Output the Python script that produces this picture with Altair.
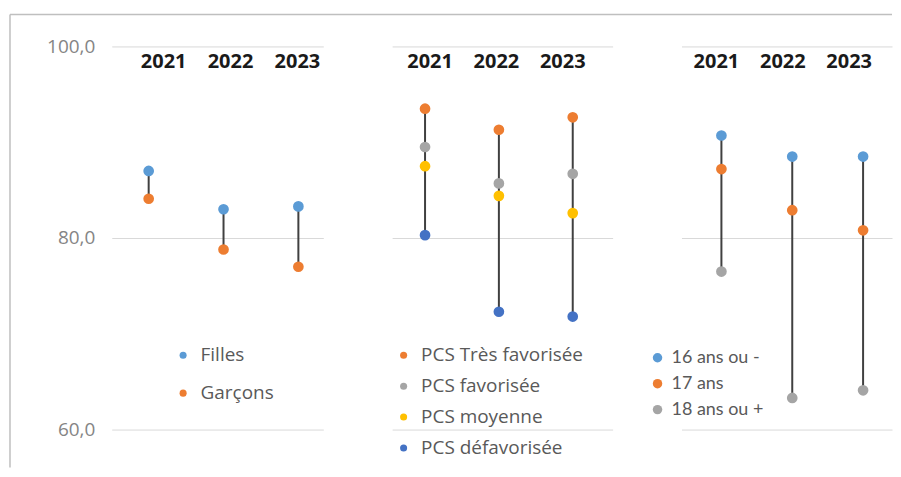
import altair as alt
import pandas as pd

annees = ["2021", "2022", "2023"]

sexe_series = ["Filles", "Garçons"]
sexe_couleurs = ["#5B9BD5", "#ED7D31"]
filles = [87.0, 83.0, 83.3]
garcons = [84.1, 78.8, 77.0]

pcs_series = ["PCS Très favorisée", "PCS favorisée", "PCS moyenne", "PCS défavorisée"]
pcs_couleurs = ["#ED7D31", "#A5A5A5", "#FFC000", "#4472C4"]
pcs_tres_fav = [93.5, 91.3, 92.6]
pcs_fav = [89.5, 85.7, 86.7]
pcs_moy = [87.5, 84.4, 82.6]
pcs_defav = [80.3, 72.3, 71.8]

age_series = ["16 ans ou -", "17 ans", "18 ans ou +"]
age_couleurs = ["#5B9BD5", "#ED7D31", "#A5A5A5"]
age_16 = [90.7, 88.5, 88.5]
age_17 = [87.2, 82.9, 80.8]
age_18 = [76.5, 63.3, 64.1]

axe_valeurs = [60, 80, 100]
HAUTEUR = 384


def tableau(series, valeurs):
    return pd.DataFrame([
        {"annee": a, "serie": s, "valeur": v}
        for s, vals in zip(series, valeurs)
        for a, v in zip(annees, vals)
    ])


def panneau(series, valeurs, couleurs, largeur, x_pad, lab_pad, legende,
            axe_visible, cadre=False):
    df = tableau(series, valeurs)
    base = alt.Chart(df)
    y_axis = alt.Axis(values=axe_valeurs, grid=True, gridColor="#D9D9D9",
                      gridWidth=1, domain=False, ticks=False,
                      labels=axe_visible,
                      labelExpr="replace(format(datum.value, '.1f'), '.', ',')",
                      labelFontSize=19, labelColor="#858585",
                      labelFont="Open Sans", labelPadding=17, title=None)
    y_scale = alt.Scale(domain=[60, 100], nice=False, zero=False)
    x_enc = alt.X("annee:N", sort=annees,
                  scale=alt.Scale(type="point", padding=x_pad[0],
                                  align=x_pad[1]),
                  axis=None)
    tiges = base.mark_rule(color="#404040", strokeWidth=2).encode(
        x=x_enc,
        y=alt.Y("min(valeur):Q", scale=y_scale, axis=y_axis),
        y2=alt.Y2("max(valeur):Q"),
    )
    points = base.mark_circle(size=115, opacity=1).encode(
        x=x_enc,
        y=alt.Y("valeur:Q", scale=y_scale, axis=y_axis),
        color=alt.Color("serie:N", sort=series,
                        scale=alt.Scale(domain=series, range=couleurs),
                        legend=legende),
    )
    etiquettes = alt.Chart(pd.DataFrame({"annee": annees})).mark_text(
        fontSize=20, fontWeight="bold", font="Open Sans", color="#1A1A1A",
        baseline="middle",
    ).encode(
        x=alt.X("annee:N", sort=annees,
                scale=alt.Scale(type="point", padding=lab_pad[0],
                                align=lab_pad[1]),
                axis=None),
        y=alt.value(16),
        text="annee:N",
    )
    couches = [tiges, points, etiquettes]
    if cadre:
        un = alt.Chart(pd.DataFrame({"cadre": ["bord"]}))
        haut = un.mark_rule(color="#BFBFBF", strokeWidth=1.5).encode(
            x=alt.value(-102), x2=alt.value(782), y=alt.value(-32))
        gauche = un.mark_rule(color="#BFBFBF", strokeWidth=1.5).encode(
            x=alt.value(-102), y=alt.value(-32), y2=alt.value(422))
        couches += [haut, gauche]
    return alt.layer(*couches).resolve_scale(x="independent").properties(
        width=largeur, height=HAUTEUR)


def legende(x, y, taille, ecart, symbole, decalage=8, police="Open Sans"):
    return alt.Legend(orient="none", legendX=x, legendY=y, title=None,
                      labelFont=police, labelFontSize=taille,
                      labelColor="#595959", labelLimit=300,
                      symbolType="circle", symbolSize=symbole,
                      symbolStrokeWidth=0, symbolOpacity=1,
                      rowPadding=ecart, labelOffset=decalage,
                      direction="vertical")


p1 = panneau(sexe_series, [filles, garcons], sexe_couleurs, 212,
             (0.413, 0.597), (0.582, 0.667), legende(62, 300, 19, 18, 50),
             True, cadre=True)
p2 = panneau(pcs_series, [pcs_tres_fav, pcs_fav, pcs_moy, pcs_defav],
             pcs_couleurs, 221, (0.493, 0.452), (0.662, 0.432),
             legende(2, 300, 19, 11, 50), False)
p3 = panneau(age_series, [age_16, age_17, age_18], age_couleurs, 211,
             (0.486, 0.58), (0.586, 0.449),
             legende(-33, 303, 18, 8, 90, 5, "Lato"), False)

chart = alt.hconcat(p1, p2, p3, spacing=69, bounds="flush").resolve_scale(
    x="independent", y="independent", color="independent"
).properties(
    padding={"left": 1, "top": 5, "right": 0, "bottom": 0}
).configure_view(strokeWidth=0)

chart.save("out.html", embed_options={"renderer": "svg", "actions": False})
